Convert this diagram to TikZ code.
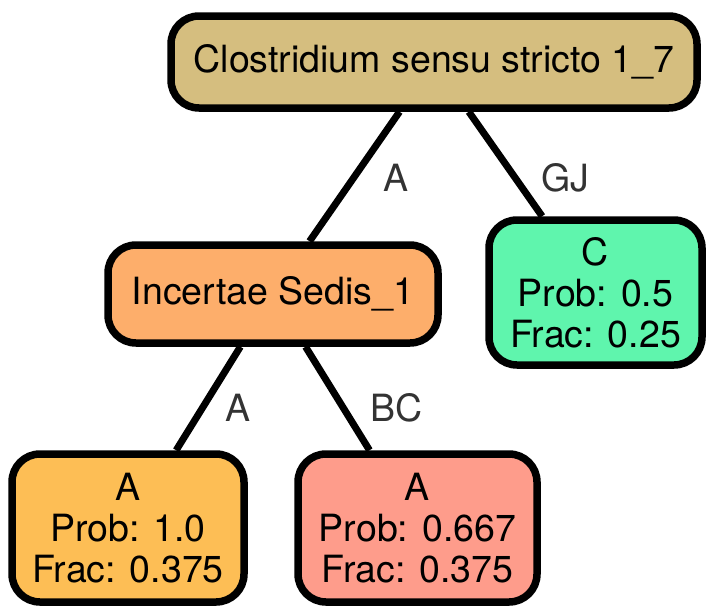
\documentclass[tikz,border=0pt]{standalone}
\usepackage{fontspec}
\setmainfont{TeX Gyre Heros}
\begin{document}
\begin{tikzpicture}[x=1pt,y=-1pt,
  box/.style={draw=black, line width=7.5pt, rounded corners=28pt, inner sep=0pt, align=center,
    font=\fontsize{37.5}{41}\selectfont},
  edge/.style={draw=black, line width=7pt},
  elab/.style={text=black!80, font=\fontsize{37.5}{41}\selectfont, inner sep=0pt}]
\definecolor{croot}{HTML}{D5BE7F}
\definecolor{cinc}{HTML}{FDAE6B}
\definecolor{cc}{HTML}{5FF5AD}
\definecolor{ca}{HTML}{FDBE55}
\definecolor{cb}{HTML}{FE9C8B}
\useasboundingbox (0,0) rectangle (714,613);
\node[box, fill=croot, minimum width=526pt, minimum height=92pt] (root) at (434,62) {Clostridium sensu stricto 1\_7};
\node[box, fill=cinc, minimum width=330pt, minimum height=98pt] (inc) at (273,294) {Incertae Sedis\_1};
\node[box, fill=cc, minimum width=213pt, minimum height=145pt] (c) at (595.5,292.5) {C\\Prob: 0.5\\Frac: 0.25};
\node[box, fill=ca, minimum width=232pt, minimum height=148pt] (a1) at (128,528) {A\\Prob: 1.0\\Frac: 0.375};
\node[box, fill=cb, minimum width=239pt, minimum height=148pt] (a2) at (417.5,528) {A\\Prob: 0.667\\Frac: 0.375};
\draw[edge] (root) -- (inc);
\draw[edge] (root) -- (c);
\draw[edge] (inc) -- (a1);
\draw[edge] (inc) -- (a2);
\node[elab] (l1) at (396,178) {A};
\node[elab] (l2) at (565,178) {GJ};
\node[elab] (l3) at (238,408) {A};
\node[elab] (l4) at (397,408) {BC};
\end{tikzpicture}
\end{document}
